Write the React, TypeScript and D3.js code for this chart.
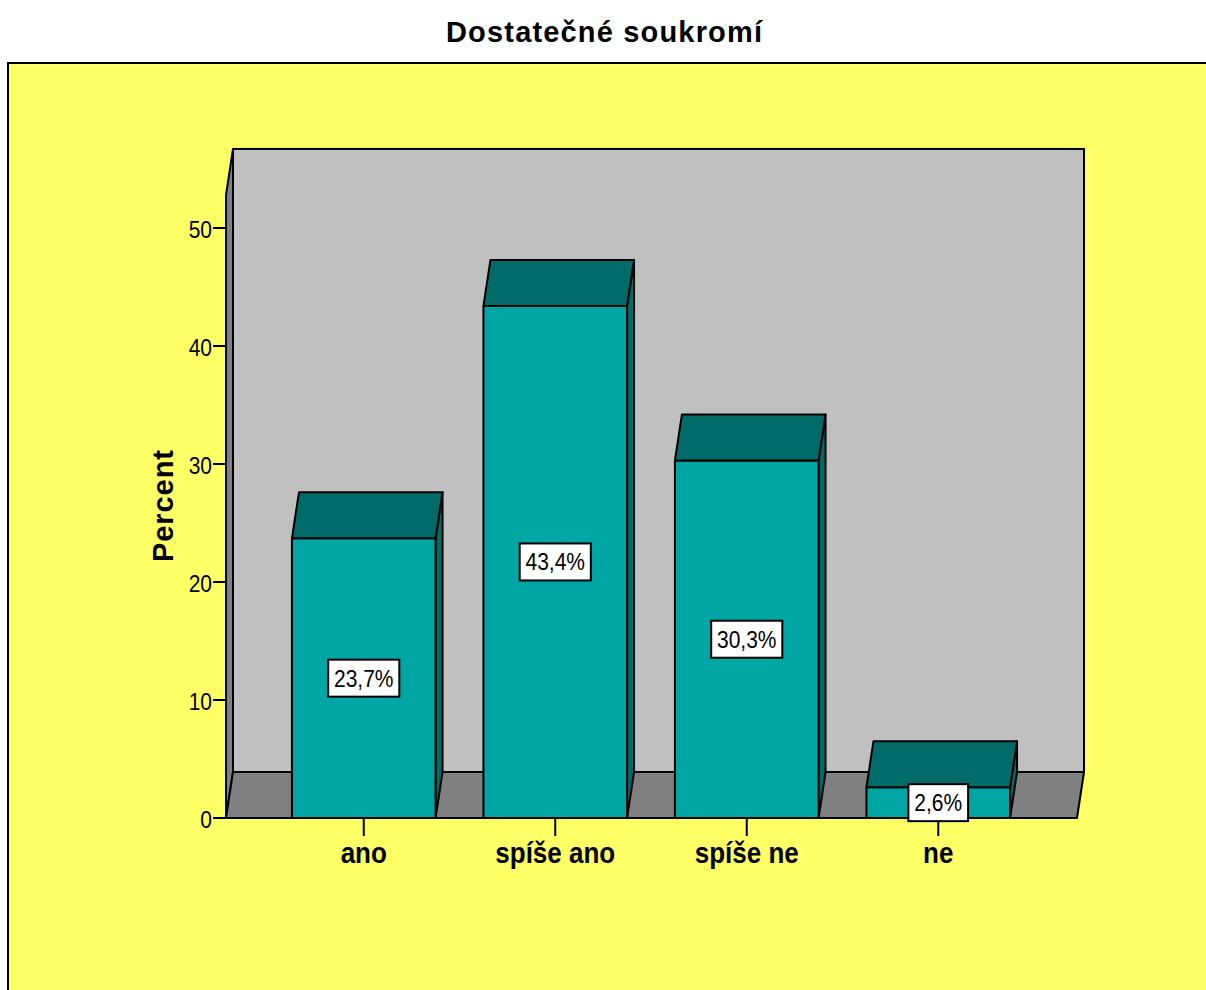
import React from "react";
import * as d3 from "d3";

// Survey answers and their shares (percent)
const categories = ["ano", "spíše ano", "spíše ne", "ne"];
const percents = [23.7, 43.4, 30.3, 2.6];
const yTicks = [0, 10, 20, 30, 40, 50];
const chartTitle = "Dostatečné soukromí";
const yAxisTitle = "Percent";

const W = 1206;
const H = 990;
const FONT = "'Liberation Sans', Arial, Helvetica, sans-serif";

// 3D box geometry
const DX = 7;
const DY = -46;
const WALL_TOP = 52.8; // data value at the top of the walls

const COLORS = {
  frame: "#FFFF66",
  backWall: "#C0C0C0",
  sideWall: "#808080",
  floor: "#808080",
  barFront: "#00A6A4",
  barTop: "#006B68",
  barSide: "#006B68",
};

const fmtPct = (v: number) => d3.format(".1f")(v).replace(".", ",") + "%";

// rough Arial advance widths for the value labels' boxes
const charW = (c: string) => (c === "," ? 0.278 : c === "%" ? 0.889 : 0.556);
const textWidth = (s: string, size: number) =>
  s.split("").reduce((a, c) => a + charW(c), 0) * size;

export default function App() {
  const y = d3.scaleLinear().domain([0, 50]).range([818, 228]);
  const x = d3
    .scaleBand<string>()
    .domain(categories)
    .range([268, 1034])
    .paddingInner(0.25)
    .paddingOuter(0.125);

  const x0 = 226;
  const x1 = 1077;
  const yBase = y(0);
  const yWall = y(WALL_TOP);
  const stroke = "#000";
  const sw = 2;

  const poly = (pts: [number, number][]) => pts.map((p) => p.join(",")).join(" ");

  return (
    <svg
      width={W}
      height={H}
      style={{ position: "absolute", left: 0, top: 0, display: "block" }}
      fontFamily={FONT}
    >
      <rect x={0} y={0} width={W} height={H} fill="#fff" />
      {/* title */}
      <text
        x={604}
        y={42}
        textAnchor="middle"
        fontWeight="bold"
        fontSize={29}
        textLength={316}
        lengthAdjust="spacing"
      >
        {chartTitle}
      </text>

      {/* yellow chart frame */}
      <rect x={8} y={63} width={1300} height={1000} fill={COLORS.frame} stroke={stroke} strokeWidth={sw} />

      {/* back wall */}
      <rect
        x={x0 + DX}
        y={yWall + DY}
        width={x1 - x0}
        height={yBase - yWall}
        fill={COLORS.backWall}
        stroke={stroke}
        strokeWidth={sw}
      />
      {/* left wall */}
      <polygon
        points={poly([
          [x0, yWall],
          [x0 + DX, yWall + DY],
          [x0 + DX, yBase + DY],
          [x0, yBase],
        ])}
        fill={COLORS.sideWall}
        stroke={stroke}
        strokeWidth={sw}
        strokeLinejoin="round"
      />
      {/* floor */}
      <polygon
        points={poly([
          [x0, yBase],
          [x0 + DX, yBase + DY],
          [x1 + DX, yBase + DY],
          [x1, yBase],
        ])}
        fill={COLORS.floor}
        stroke={stroke}
        strokeWidth={sw}
        strokeLinejoin="round"
      />

      {/* bars */}
      {categories.map((c, i) => {
        const bx = x(c)!;
        const bw = x.bandwidth();
        const ty = y(percents[i]);
        return (
          <g key={c} stroke={stroke} strokeWidth={sw} strokeLinejoin="round">
            <polygon
              points={poly([
                [bx + bw, ty],
                [bx + bw + DX, ty + DY],
                [bx + bw + DX, yBase + DY],
                [bx + bw, yBase],
              ])}
              fill={COLORS.barSide}
            />
            <rect x={bx} y={ty} width={bw} height={yBase - ty} fill={COLORS.barFront} />
            <polygon
              points={poly([
                [bx, ty],
                [bx + DX, ty + DY],
                [bx + bw + DX, ty + DY],
                [bx + bw, ty],
              ])}
              fill={COLORS.barTop}
            />
          </g>
        );
      })}

      {/* y axis */}
      <line x1={x0} x2={x0} y1={yWall} y2={yBase} stroke={stroke} strokeWidth={sw} />
      {yTicks.map((t) => (
        <g key={t}>
          <line x1={x0 - 13} x2={x0} y1={y(t)} y2={y(t)} stroke={stroke} strokeWidth={sw} />
          <text
            transform={`translate(${x0 - 14},${y(t) + 10}) scale(1,1.12)`}
            textAnchor="end"
            fontSize={21}
          >
            {t}
          </text>
        </g>
      ))}
      <text
        transform={`translate(173,506) rotate(-90)`}
        textAnchor="middle"
        fontWeight="bold"
        fontSize={29}
        textLength={112}
        lengthAdjust="spacing"
      >
        {yAxisTitle}
      </text>

      {/* x axis ticks and category labels */}
      <line x1={x0} x2={x1} y1={yBase} y2={yBase} stroke={stroke} strokeWidth={sw} />
      {categories.map((c) => {
        const cx = x(c)! + x.bandwidth() / 2;
        return (
          <g key={c}>
            <line x1={cx} x2={cx} y1={yBase} y2={yBase + 18} stroke={stroke} strokeWidth={sw} />
            <text
              transform={`translate(${cx},863) scale(1,1.15)`}
              textAnchor="middle"
              fontWeight="bold"
              fontSize={26}
            >
              {c}
            </text>
          </g>
        );
      })}

      {/* value labels */}
      {categories.map((c, i) => {
        const cx = x(c)! + x.bandwidth() / 2;
        const cy = (y(percents[i]) + yBase) / 2;
        const label = fmtPct(percents[i]);
        const bw = textWidth(label, 20.5) + 13;
        const bh = 37;
        return (
          <g key={c}>
            <rect
              x={cx - bw / 2}
              y={cy - bh / 2}
              width={bw}
              height={bh}
              fill="#fff"
              stroke={stroke}
              strokeWidth={sw}
            />
            <text
              transform={`translate(${cx},${cy + 8.5}) scale(1,1.12)`}
              textAnchor="middle"
              fontSize={21}
            >
              {label}
            </text>
          </g>
        );
      })}
    </svg>
  );
}
